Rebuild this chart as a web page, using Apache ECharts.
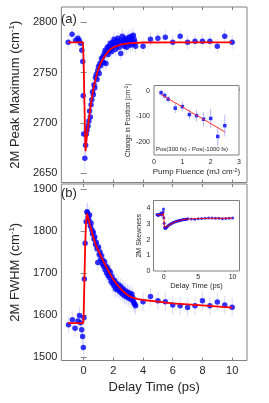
<!DOCTYPE html>
<html><head><meta charset="utf-8">
<script src="https://cdn.jsdelivr.net/npm/echarts@6/dist/echarts.min.js"></script>
<style>html,body{margin:0;padding:0;background:#fff}#c{width:269px;height:403px}</style>
</head><body><div id="c"></div>
<script>
// ---------- DATA ----------
// Panel (a): 2M peak maximum vs delay time [t (ps), value (cm-1), err]
const topEarly = [[-1.04,2780,7],[-0.78,2788,7],[-0.54,2782,7],[-0.39,2784,7],[-0.30,2782,7],[-0.20,2779,7],[-0.12,2772,8],[-0.06,2761,8],[-0.03,2727,9],[0.00,2689,10],[0.08,2665,12],[0.13,2678,10],[0.18,2689,9],[0.23,2693,9]];
const topDense = [[0.30,2697],[0.35,2702],[0.40,2712],[0.45,2706],[0.50,2718],[0.55,2723],[0.60,2731],[0.65,2728],[0.70,2738],[0.75,2735],[0.80,2745],[0.85,2748],[0.90,2743],[0.95,2752],[1.00,2756],[1.05,2749],[1.10,2759],[1.15,2757],[1.20,2764],[1.25,2761],[1.30,2766],[1.35,2760],[1.40,2769],[1.45,2772],[1.50,2759],[1.55,2770],[1.60,2775],[1.65,2768],[1.70,2776],[1.75,2772],[1.80,2779],[1.85,2774],[1.90,2771],[1.95,2780],[2.00,2776],[2.05,2783],[2.10,2778],[2.15,2773],[2.20,2781],[2.25,2777],[2.30,2784],[2.35,2779],[2.40,2775],[2.45,2782],[2.50,2769],[2.55,2780],[2.60,2786],[2.65,2778],[2.70,2782],[2.75,2776],[2.80,2784],[2.85,2780],[2.90,2775],[2.95,2783],[3.00,2779],[3.05,2785],[3.10,2781],[3.15,2777],[3.20,2786],[3.25,2782],[3.30,2778],[3.35,2787],[3.40,2783],[3.45,2780],[3.50,2776]];
const topDenseErr = 7;
const topLate = [[4.0,2776],[4.5,2783],[5.0,2784],[5.5,2785],[6.0,2780],[6.5,2786],[7.0,2780],[7.5,2781],[8.0,2781],[8.5,2781],[9.0,2776],[9.5,2786],[10.0,2780]];
const topLateErr = 7;
const topFit = [[-1.05,2780],[-0.05,2780],[0.00,2762],[0.05,2722],[0.10,2684],[0.13,2672],[0.20,2684],[0.30,2697],[0.40,2709],[0.50,2720],[0.60,2729],[0.70,2737],[0.80,2743],[0.90,2749],[1.00,2754],[1.20,2761],[1.40,2766],[1.60,2770],[1.80,2773],[2.00,2775],[2.50,2777.8],[3.00,2779],[4.00,2779.8],[6.00,2780],[10.00,2780]];

// Panel (b): 2M FWHM vs delay time
const botEarly = [[-1.02,1577,20],[-0.76,1589,20],[-0.58,1569,20],[-0.39,1586,20],[-0.28,1599,20],[-0.22,1582,20],[-0.13,1565,20],[-0.07,1549,20],[-0.02,1523,22],[0.02,1594,22],[0.05,1686,22],[0.10,1771,22],[0.17,1822,22],[0.22,1846,22],[0.26,1843,22]];
const botDense = [[0.30,1832],[0.35,1826],[0.40,1838],[0.45,1812],[0.50,1819],[0.55,1803],[0.60,1793],[0.65,1797],[0.70,1781],[0.75,1786],[0.80,1768],[0.85,1773],[0.90,1758],[0.95,1725],[1.00,1762],[1.05,1744],[1.10,1750],[1.15,1733],[1.20,1741],[1.25,1722],[1.30,1730],[1.35,1716],[1.40,1727],[1.45,1708],[1.50,1717],[1.55,1700],[1.60,1712],[1.65,1694],[1.70,1706],[1.75,1689],[1.80,1702],[1.85,1680],[1.90,1692],[1.95,1675],[2.00,1684],[2.05,1669],[2.10,1681],[2.15,1662],[2.20,1675],[2.25,1668],[2.30,1660],[2.35,1672],[2.40,1663],[2.45,1655],[2.50,1668],[2.55,1658],[2.60,1650],[2.65,1663],[2.70,1654],[2.75,1646],[2.80,1658],[2.85,1650],[2.90,1643],[2.95,1655],[3.00,1648],[3.05,1640],[3.10,1652],[3.15,1644],[3.20,1637],[3.25,1650],[3.30,1642],[3.35,1633],[3.40,1628],[3.45,1625],[3.50,1622]];
const botDenseErr = 20;
const botLate = [[4.0,1632],[4.5,1644],[5.0,1634],[5.5,1632],[6.0,1624],[6.5,1622],[7.0,1618],[7.5,1622],[8.0,1634],[8.5,1622],[9.0,1631],[9.5,1624],[10.0,1619]];
const botLateErr = 22;
const botFit = [[-1.05,1581],[-0.03,1581],[0.00,1600],[0.05,1680],[0.10,1760],[0.15,1815],[0.23,1842],[0.30,1833],[0.43,1814],[0.65,1786],[0.85,1764],[1.08,1747],[1.30,1730],[1.51,1715],[1.75,1700],[1.94,1688],[2.15,1677],[2.37,1668],[2.60,1659],[2.80,1652],[3.00,1647],[3.24,1642],[3.67,1638],[4.00,1636],[5.00,1632],[6.00,1628],[8.00,1623],[10.00,1618]];

// Inset (a): change in position vs pump fluence
const fluence = [0.25,0.375,0.5,0.75,1.0,1.25,1.5,1.75,2.0,2.25,2.5];
const posChange = [-8,-19,-33,-68,-62,-93,-97,-111,-108,-178,-136];
const posErr = [13,13,14,19,19,19,22,29,37,37,42];
const posFit = [[0.25,-15],[2.5,-160]];

// Inset (b): 2M skewness vs delay time
const skewT = [-1.0,-0.9,-0.8,-0.7,-0.55,-0.4,-0.3,-0.2,-0.1,-0.05,0.0,0.05,0.1,0.2,0.3,0.4,0.5,0.65,0.8,0.95,1.1,1.25,1.4,1.55,1.7,1.85,2.0,2.15,2.3,2.45,2.6,2.75,2.9,3.05,3.2,3.35,3.5,4.0,4.5,5.0,5.5,6.0,6.5,7.0,7.5,8.0,8.5,9.0,9.5,10.0];
const skewV = [3.60,3.58,3.55,3.62,3.60,3.70,3.58,3.65,3.78,3.95,3.40,3.05,2.80,2.72,2.75,2.80,2.84,2.90,2.95,2.99,3.03,3.07,3.10,3.12,3.15,3.17,3.19,3.21,3.22,3.24,3.25,3.27,3.28,3.29,3.30,3.31,3.33,3.32,3.30,3.33,3.35,3.37,3.38,3.39,3.37,3.36,3.33,3.35,3.36,3.38];
const skewFit = [[-1.0,3.60],[-0.1,3.62],[-0.05,3.75],[0.0,3.35],[0.1,2.80],[0.2,2.72],[0.5,2.84],[1.0,3.00],[1.5,3.11],[2.0,3.19],[2.5,3.24],[3.0,3.29],[3.5,3.32],[5.0,3.35],[10.0,3.37]];

// Tick labels
const xTicks = [0,2,4,6,8,10];
const topYTicks = [2650,2700,2750,2800];
const botYTicks = [1500,1600,1700,1800,1900];
const in1XTicks = [0,1,2,3];
const in1YTicks = [-200,-100,0];
const in2XTicks = [0,5,10];
const in2YTicks = [0,1,2,3,4];

// ---------- CHART ----------
const BLUE = '#0000ff', RED = '#ff0000', ERRC = 'rgba(150,150,255,0.35)';
const AX = '#808080', TXT = '#262626', FONT = 'Liberation Sans, Arial, sans-serif';
const plain = v => String(v);

const topAll = topEarly.concat(topDense.map(d => [d[0], d[1], topDenseErr]), topLate.map(d => [d[0], d[1], topLateErr]));
const botAll = botEarly.concat(botDense.map(d => [d[0], d[1], botDenseErr]), botLate.map(d => [d[0], d[1], botLateErr]));
const in1Data = fluence.map((f, i) => [f, posChange[i], posErr[i]]);
const in2Data = skewT.map((t, i) => [t, skewV[i]]);

function errSeries(xi, yi, data, color, lw) {
  return {
    type: 'custom', xAxisIndex: xi, yAxisIndex: yi, data: data, z: 2, silent: true,
    encode: {x: 0, y: 1},
    renderItem: function (params, api) {
      const x = api.value(0), y = api.value(1), e = api.value(2);
      const p1 = api.coord([x, y - e]), p2 = api.coord([x, y + e]);
      return {type: 'line', shape: {x1: p1[0], y1: p1[1], x2: p2[0], y2: p2[1]},
        style: {stroke: color, lineWidth: lw}};
    }
  };
}

function valAxis(o) {
  const base = {
    type: 'value', scale: false,
    axisLine: {show: false},
    splitLine: {show: false},
    axisTick: {show: true, inside: true, length: 3, lineStyle: {color: AX}},
    axisLabel: {color: TXT, fontFamily: FONT, fontSize: 11, formatter: plain},
    nameTextStyle: {color: TXT, fontFamily: FONT}
  };
  const r = Object.assign({}, base, o);
  if (o.axisTick) r.axisTick = Object.assign({}, base.axisTick, o.axisTick);
  if (o.axisLabel) r.axisLabel = Object.assign({}, base.axisLabel, o.axisLabel);
  return r;
}

const supRich = (fs, sfs) => ({
  t: {fontSize: fs, fontFamily: FONT, color: TXT, lineHeight: fs + 2},
  s: {fontSize: sfs, fontFamily: FONT, color: TXT, verticalAlign: 'top', lineHeight: sfs}
});

const chart = echarts.init(document.getElementById('c'), null, {renderer: 'canvas'});
chart.setOption({
  animation: false,
  backgroundColor: '#fff',
  grid: [
    {left: 54, top: 7, width: 193, height: 175.5, show: true, borderColor: AX, borderWidth: 1, backgroundColor: '#fff'},
    {left: 54, top: 184, width: 193, height: 176.5, show: true, borderColor: AX, borderWidth: 1, backgroundColor: '#fff'},
    {left: 154, top: 85.5, width: 85, height: 69.5, show: true, borderColor: AX, borderWidth: 1, backgroundColor: '#fff', z: 5},
    {left: 153.5, top: 200.5, width: 86, height: 70.5, show: true, borderColor: AX, borderWidth: 1, backgroundColor: '#fff', z: 5}
  ],
  xAxis: [
    valAxis({gridIndex: 0, min: -1.5, max: 11, position: 'bottom', axisLabel: {show: false, customValues: xTicks}, axisTick: {customValues: xTicks}}),
    valAxis({gridIndex: 0, min: -1.5, max: 11, position: 'top', axisLabel: {show: false, customValues: xTicks}, axisTick: {customValues: xTicks}}),
    valAxis({gridIndex: 1, min: -1.5, max: 11, position: 'bottom', axisLabel: {margin: 5, customValues: xTicks}, axisTick: {customValues: xTicks},
      name: 'Delay Time (ps)', nameLocation: 'middle', nameGap: 20, nameTextStyle: {fontSize: 13, color: TXT, fontFamily: FONT}}),
    valAxis({gridIndex: 1, min: -1.5, max: 11, position: 'top', axisLabel: {show: false, customValues: xTicks}, axisTick: {customValues: xTicks}}),
    valAxis({gridIndex: 2, min: 0, max: 3, position: 'bottom', axisLabel: {fontSize: 7, margin: 4, customValues: in1XTicks}, axisTick: {length: 2, customValues: in1XTicks},
      name: '{t|Pump Fluence (mJ cm}{s|-2}{t|)}', nameLocation: 'middle', nameGap: 12, nameTextStyle: {rich: supRich(8, 5.5)}}),
    valAxis({gridIndex: 3, min: -1.5, max: 11, position: 'bottom', axisLabel: {fontSize: 7, margin: 3, customValues: in2XTicks}, axisTick: {length: 2, customValues: in2XTicks},
      name: 'Delay Time (ps)', nameLocation: 'middle', nameGap: 10, nameTextStyle: {fontSize: 7.5, color: TXT, fontFamily: FONT}})
  ],
  yAxis: [
    valAxis({gridIndex: 0, min: 2641, max: 2815, position: 'left', axisLabel: {margin: 4, customValues: topYTicks}, axisTick: {customValues: topYTicks},
      name: '{t|2M Peak Maximum (cm}{s|-1}{t|)}', nameLocation: 'middle', nameGap: 30, nameTextStyle: {rich: supRich(13, 8)}}),
    valAxis({gridIndex: 0, min: 2641, max: 2815, position: 'right', axisLabel: {show: false, customValues: topYTicks}, axisTick: {customValues: topYTicks}}),
    valAxis({gridIndex: 1, min: 1492, max: 1912, position: 'left', axisLabel: {margin: 4, customValues: botYTicks}, axisTick: {customValues: botYTicks},
      name: '{t|2M FWHM (cm}{s|-1}{t|)}', nameLocation: 'middle', nameGap: 35, nameTextStyle: {rich: supRich(13, 8)}}),
    valAxis({gridIndex: 1, min: 1492, max: 1912, position: 'right', axisLabel: {show: false, customValues: botYTicks}, axisTick: {customValues: botYTicks}}),
    valAxis({gridIndex: 2, min: -250, max: 20, position: 'left', axisLabel: {fontSize: 7, margin: 4, customValues: in1YTicks}, axisTick: {length: 2, customValues: in1YTicks},
      name: '{t|Change in Position (cm}{s|-1}{t|)}', nameLocation: 'middle', nameGap: 20, nameTextStyle: {rich: supRich(6.5, 4.5)}}),
    valAxis({gridIndex: 3, min: 0, max: 4.5, position: 'left', axisLabel: {fontSize: 7, margin: 3, customValues: in2YTicks}, axisTick: {length: 2, customValues: in2YTicks},
      name: '2M Skewness', nameLocation: 'middle', nameGap: 9, nameTextStyle: {fontSize: 7, color: TXT, fontFamily: FONT}})
  ],
  series: [
    errSeries(0, 0, topAll, ERRC, 1),
    {type: 'scatter', xAxisIndex: 0, yAxisIndex: 0, data: topAll.map(d => [d[0], d[1]]), symbol: 'circle', symbolSize: 5.5, itemStyle: {color: BLUE}, z: 3, silent: true},
    {type: 'line', xAxisIndex: 0, yAxisIndex: 0, data: topFit, showSymbol: false, lineStyle: {color: RED, width: 1.8}, z: 4, silent: true},

    errSeries(2, 2, botAll, ERRC, 1),
    {type: 'scatter', xAxisIndex: 2, yAxisIndex: 2, data: botAll.map(d => [d[0], d[1]]), symbol: 'circle', symbolSize: 5.5, itemStyle: {color: BLUE}, z: 3, silent: true},
    {type: 'line', xAxisIndex: 2, yAxisIndex: 2, data: botFit, showSymbol: false, lineStyle: {color: RED, width: 1.8}, z: 4, silent: true},

    Object.assign(errSeries(4, 4, in1Data, 'rgba(120,120,255,0.55)', 1), {z: 6}),
    {type: 'scatter', xAxisIndex: 4, yAxisIndex: 4, data: in1Data.map(d => [d[0], d[1]]), symbol: 'rect', symbolSize: 3.5, itemStyle: {color: BLUE}, z: 7, silent: true},
    {type: 'line', xAxisIndex: 4, yAxisIndex: 4, data: posFit, showSymbol: false, lineStyle: {color: '#ff3030', width: 1}, z: 8, silent: true},

    {type: 'scatter', xAxisIndex: 5, yAxisIndex: 5, data: in2Data, symbol: 'circle', symbolSize: 3, itemStyle: {color: BLUE}, z: 7, silent: true},
    {type: 'line', xAxisIndex: 5, yAxisIndex: 5, data: skewFit, showSymbol: false, lineStyle: {color: RED, width: 1.2, opacity: 0.8}, z: 8, silent: true}
  ],
  graphic: [
    {type: 'text', left: 61, top: 13, z: 20, style: {text: '(a)', font: '13px Liberation Sans, Arial, sans-serif', fill: TXT}},
    {type: 'text', left: 61, top: 187, z: 20, style: {text: '(b)', font: '13px Liberation Sans, Arial, sans-serif', fill: TXT}},
    {type: 'text', left: 156, top: 146, z: 20, style: {text: 'Pos(300 fs) - Pos(-1000 fs)', font: '6px Liberation Sans, Arial, sans-serif', fill: TXT}}
  ]
});
</script>
</body></html>
